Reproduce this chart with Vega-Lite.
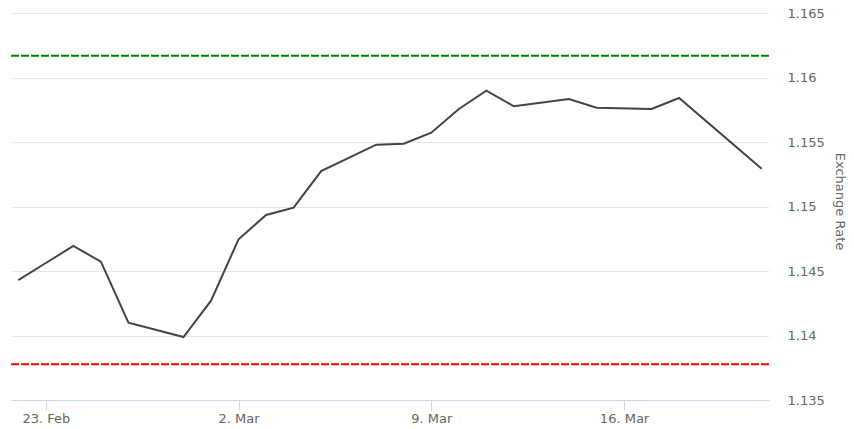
{
  "$schema": "https://vega.github.io/schema/vega-lite/v6.json",
  "width": 758,
  "height": 387,
  "autosize": "none",
  "padding": {"left": 11, "top": 13, "right": 85, "bottom": 29},
  "background": "white",
  "config": {
    "view": {"stroke": null},
    "font": "DejaVu Sans"
  },
  "datasets": {
    "rates": [
      {"date": "2026-02-22", "rate": 1.1443},
      {"date": "2026-02-23", "rate": 1.14562},
      {"date": "2026-02-24", "rate": 1.14694},
      {"date": "2026-02-25", "rate": 1.14572},
      {"date": "2026-02-26", "rate": 1.14099},
      {"date": "2026-02-28", "rate": 1.13988},
      {"date": "2026-03-01", "rate": 1.1427},
      {"date": "2026-03-02", "rate": 1.14746},
      {"date": "2026-03-03", "rate": 1.14934},
      {"date": "2026-03-04", "rate": 1.14991},
      {"date": "2026-03-05", "rate": 1.15275},
      {"date": "2026-03-07", "rate": 1.15479},
      {"date": "2026-03-08", "rate": 1.15487},
      {"date": "2026-03-09", "rate": 1.15572},
      {"date": "2026-03-10", "rate": 1.15756},
      {"date": "2026-03-11", "rate": 1.15898},
      {"date": "2026-03-12", "rate": 1.15777},
      {"date": "2026-03-14", "rate": 1.15833},
      {"date": "2026-03-15", "rate": 1.15766},
      {"date": "2026-03-17", "rate": 1.15756},
      {"date": "2026-03-18", "rate": 1.15841},
      {"date": "2026-03-21", "rate": 1.15293}
    ],
    "levels": [
      {"kind": "upper", "level": 1.16169},
      {"kind": "lower", "level": 1.13777}
    ]
  },
  "layer": [
    {
      "data": {"name": "levels"},
      "mark": {"type": "rule", "strokeWidth": 2, "strokeDash": [8, 2]},
      "encoding": {
        "y": {"field": "level", "type": "quantitative", "scale": {"domain": [1.135, 1.165], "zero": false, "nice": false}},
        "color": {"field": "kind", "type": "nominal", "scale": {"domain": ["upper", "lower"], "range": ["#008000", "#ff0000"]}, "legend": null}
      }
    },
    {
      "data": {"name": "rates"},
      "mark": {"type": "line", "color": "#434348", "strokeWidth": 2},
      "encoding": {
        "x": {
          "field": "date",
          "type": "temporal",
          "scale": {
            "type": "utc",
            "domain": [
              {"year": 2026, "month": 2, "date": 21, "hours": 17, "minutes": 38, "utc": true},
              {"year": 2026, "month": 3, "date": 21, "hours": 6, "minutes": 22, "utc": true}
            ]
          },
          "axis": {
            "title": null,
            "values": [
              {"year": 2026, "month": 2, "date": 23, "utc": true},
              {"year": 2026, "month": 3, "date": 2, "utc": true},
              {"year": 2026, "month": 3, "date": 9, "utc": true},
              {"year": 2026, "month": 3, "date": 16, "utc": true}
            ],
            "format": "%-d. %b",
            "grid": false,
            "domainColor": "#ccd6eb",
            "tickColor": "#ccd6eb",
            "tickSize": 10,
            "labelColor": "#666666",
            "labelFontSize": 13,
            "labelPadding": 2,
            "labelFont": "DejaVu Sans"
          }
        },
        "y": {
          "field": "rate",
          "type": "quantitative",
          "scale": {"domain": [1.135, 1.165], "zero": false, "nice": false},
          "axis": {
            "orient": "right",
            "title": "Exchange Rate",
            "titleColor": "#666666",
            "titleFontWeight": "normal",
            "titleFontSize": 13,
            "titleFont": "DejaVu Sans",
            "titlePadding": 8,
            "titleY": 188,
            "values": [1.135, 1.14, 1.145, 1.15, 1.155, 1.16, 1.165],
            "format": ".3~f",
            "domain": false,
            "ticks": false,
            "gridColor": "#e6e6e6",
            "gridWidth": 1,
            "labelColor": "#666666",
            "labelFontSize": 13,
            "labelPadding": 18,
            "labelFont": "DejaVu Sans"
          }
        }
      }
    }
  ],
  "resolve": {"scale": {"y": "shared"}}
}
